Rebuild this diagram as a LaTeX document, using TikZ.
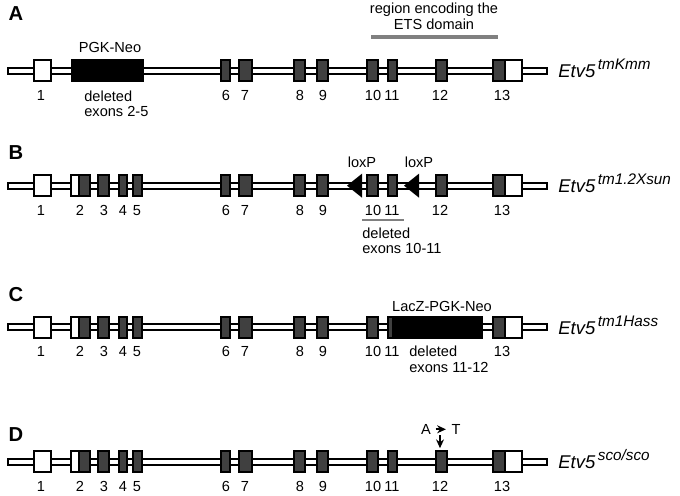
\documentclass[tikz,border=0pt]{standalone}
\usepackage{fontspec}
\setmainfont{Liberation Sans}
\usetikzlibrary{arrows.meta}

\definecolor{exongray}{gray}{0.25}
\definecolor{bargray}{gray}{0.5}

\tikzset{
  gene/.style={draw, fill=white, line width=1.1pt},
  exon/.style={draw, fill=exongray, line width=0.9pt},
  utr/.style={draw, fill=white, line width=0.9pt},
  cassette/.style={draw, fill=black, line width=0.9pt},
  lbl/.style={font=\fontsize{8.3}{9.3}\selectfont, inner sep=0pt},
  panel/.style={font=\fontsize{11.5}{13}\selectfont\bfseries, inner sep=0pt},
  allele/.style={font=\fontsize{10.5}{12}\selectfont\itshape, anchor=base west, inner sep=0pt},
  mut/.style={-{Stealth[length=5pt,width=4.5pt]}, line width=1pt},
}
\newcommand{\allelename}[1]{Etv5\hspace{1.5pt}\raisebox{4.7pt}{\fontsize{8.7}{10}\selectfont #1}}

\begin{document}
\begin{tikzpicture}[x=0.02cm, y=-0.02cm]
        \useasboundingbox (0,0) rectangle (680,496);

        % Panel letters
        \node[panel] (pA) at (16,14) {A};
        \node[panel] (pB) at (16,153) {B};
        \node[panel] (pC) at (16,295) {C};
        \node[panel] (pD) at (16,435) {D};

        %% A: tmKmm
        \begin{scope}[shift={(0,70.7)}, name prefix=a-]
                \draw[gene] (8,-3) rectangle (547,3);
                \draw[utr] (34,-10.5) rectangle (51,10.5);
                \draw[cassette] (72,-10.5) rectangle (143,10.5);
                \foreach \a/\b in {221/230,239/252,294/305,317/328,367/378,388/397,436/447,493/505} {
                        \draw[exon] (\a,-10.5) rectangle (\b,10.5);
                        }
                \draw[utr] (505,-10.5) rectangle (522,10.5);
                \foreach \n/\x in {1/41,6/226,7/245,8/300,9/323,10/373,11/392,12/440,13/502} {
                        \node[lbl] (n\n) at (\x,24.5) {\n};
                        }
                % Texts
                \node[lbl] (neo) at (110,-23.7) {PGK-Neo};
                \node[lbl, anchor=west] (del) at (84,25.3) {deleted};
                \node[lbl, anchor=west] (delex) at (84,40.3) {exons 2-5};
                \node[lbl] (ets1) at (434,-61.2) {region encoding the};
                \node[lbl] (ets2) at (434,-46.7) {ETS domain};
                \draw[bargray, line width=2.3pt] (371,-33.4) -- (498,-33.4);
                \node[allele] (name) at (558,7) {\allelename{tmKmm}};
        \end{scope}

        %% B: tm1.2Xsun
        \begin{scope}[shift={(0,185.7)}, name prefix=b-]
                \draw[gene] (8,-3) rectangle (547,3);
                \draw[utr] (34,-10.5) rectangle (51,10.5);
                \draw[utr] (71,-10.5) rectangle (79,10.5);
                \foreach \a/\b in {79/90,98/109,119/127,133/142,221/230,239/252,294/305,317/328,367/378,388/397,436/447,493/505} {
                        \draw[exon] (\a,-10.5) rectangle (\b,10.5);
                        }
                \draw[utr] (505,-10.5) rectangle (522,10.5);
                \foreach \n/\x in {1/41,2/80,3/104,4/123,5/137,6/226,7/245,8/300,9/323,10/373,11/392,12/440,13/502} {
                        \node[lbl] (n\n) at (\x,24.5) {\n};
                        }
                % loxP sites
                \fill (347,0) -- (362,-12) -- (362,12) -- cycle;
                \fill (404,0) -- (419,-12) -- (419,12) -- cycle;
                \node[lbl] (lox1) at (362,-23) {loxP};
                \node[lbl] (lox2) at (419,-23) {loxP};
                \draw[bargray, line width=0.9pt] (362,34.3) -- (404,34.3);
                \node[lbl, anchor=west] (del) at (362,47.3) {deleted};
                \node[lbl, anchor=west] (delex) at (362,62.3) {exons 10-11};
                \node[allele] (name) at (558,7) {\allelename{tm1.2Xsun}};
        \end{scope}

        %% C: tm1Hass
        \begin{scope}[shift={(0,327.3)}, name prefix=c-]
                \draw[gene] (8,-3) rectangle (547,3);
                \draw[utr] (34,-10.5) rectangle (51,10.5);
                \draw[utr] (71,-10.5) rectangle (79,10.5);
                \foreach \a/\b in {79/90,98/109,119/127,133/142,221/230,239/252,294/305,317/328,367/378,388/393,493/505} {
                        \draw[exon] (\a,-10.5) rectangle (\b,10.5);
                        }
                \draw[cassette] (393,-10.5) rectangle (482,10.5);
                \draw[utr] (505,-10.5) rectangle (522,10.5);
                \foreach \n/\x in {1/41,2/80,3/104,4/123,5/137,6/226,7/245,8/300,9/323,10/373,11/392,13/502} {
                        \node[lbl] (n\n) at (\x,24.5) {\n};
                        }
                \node[lbl] (lacz) at (442,-20.6) {LacZ-PGK-Neo};
                \node[lbl, anchor=west] (del) at (409,24.4) {deleted};
                \node[lbl, anchor=west] (delex) at (409,40) {exons 11-12};
                \node[allele] (name) at (558,7) {\allelename{tm1Hass}};
        \end{scope}

        %% D: sco/sco
        \begin{scope}[shift={(0,461.7)}, name prefix=d-]
                \draw[gene] (8,-3) rectangle (547,3);
                \draw[utr] (34,-10.5) rectangle (51,10.5);
                \draw[utr] (71,-10.5) rectangle (79,10.5);
                \foreach \a/\b in {79/90,98/109,119/127,133/142,221/230,239/252,294/305,317/328,367/378,388/397,436/447,493/505} {
                        \draw[exon] (\a,-10.5) rectangle (\b,10.5);
                        }
                \draw[utr] (505,-10.5) rectangle (522,10.5);
                \foreach \n/\x in {1/41,2/80,3/104,4/123,5/137,6/226,7/245,8/300,9/323,10/373,11/392,12/440,13/502} {
                        \node[lbl] (n\n) at (\x,24.5) {\n};
                        }
                % point mutation
                \node[lbl] (ntA) at (426,-32.4) {A};
                \node[lbl] (ntT) at (456,-32.4) {T};
                \draw[mut] ([xshift=2.5pt]ntA.east) -- ([xshift=-3pt]ntT.west);
                \coordinate (mtop) at (440,-26.5);
                \coordinate (mbot) at (440,-13.5);
                \draw[mut] (mtop) -- (mbot);
                \node[allele] (name) at (558,7) {\allelename{sco/sco}};
        \end{scope}
\end{tikzpicture}
\end{document}
